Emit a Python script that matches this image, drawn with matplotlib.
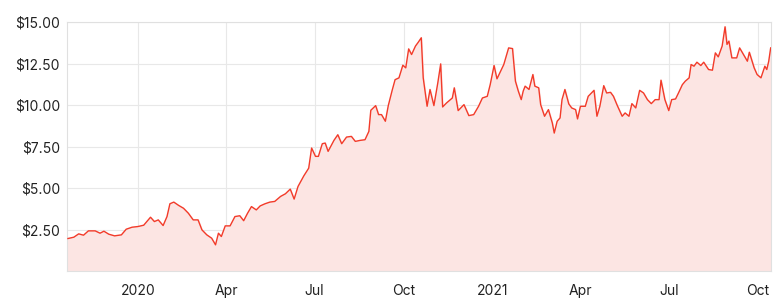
import numpy as np
import pandas as pd
import matplotlib
matplotlib.use('Agg')
import matplotlib.pyplot as plt

# price series (days counted from start_date)
start_date = '2019-10-20'
end_date = '2021-10-14'
days = [1, 7, 12, 17, 22, 29, 34, 38, 43, 49, 56, 61, 67, 73, 79, 86, 90, 94, 99, 103,
        106, 110, 115, 120, 125, 130, 135, 139, 144, 149, 153, 156, 159, 163, 168, 173,
        178, 182, 186, 190, 195, 199, 204, 209, 214, 220, 225, 230, 234, 238, 244, 249,
        252, 256, 259, 263, 266, 269, 275, 279, 283, 288, 293, 297, 302, 307, 311, 313,
        318, 321, 324, 328, 331, 335, 338, 342, 346, 349, 352, 355, 359, 362, 365, 367,
        371, 374, 378, 382, 385, 387, 391, 397, 399, 403, 409, 414, 419, 424, 428, 433,
        436, 440, 443, 450, 455, 459, 462, 465, 468, 470, 472, 476, 480, 482, 486, 488,
        492, 496, 500, 502, 505, 508, 510, 513, 517, 520, 524, 526, 529, 534, 537, 543,
        546, 549, 553, 556, 560, 563, 567, 572, 575, 579, 582, 586, 590, 594, 598, 602,
        606, 610, 612, 616, 620, 623, 627, 630, 634, 637, 641, 643, 646, 649, 653, 656,
        661, 665, 668, 671, 675, 678, 680, 682, 685, 690, 693, 697, 701, 703, 708, 711,
        715, 719, 721, 723, 725]
price = [1.98, 2.06, 2.26, 2.18, 2.44, 2.44, 2.30, 2.42, 2.24, 2.14, 2.20, 2.54, 2.66, 2.70,
         2.78, 3.26, 3.00, 3.10, 2.76, 3.30, 4.07, 4.17, 3.97, 3.80, 3.50, 3.10, 3.10, 2.50,
         2.20, 2.00, 1.60, 2.30, 2.10, 2.74, 2.74, 3.30, 3.35, 3.05, 3.50, 3.90, 3.70, 3.94,
         4.07, 4.17, 4.21, 4.51, 4.67, 4.95, 4.35, 5.11, 5.75, 6.21, 7.42, 6.92, 6.92, 7.68,
         7.72, 7.22, 7.88, 8.22, 7.68, 8.08, 8.12, 7.82, 7.88, 7.92, 8.42, 9.69, 9.97, 9.43,
         9.43, 9.03, 9.97, 10.89, 11.53, 11.64, 12.40, 12.24, 13.38, 13.04, 13.55, 13.79,
         14.05, 11.64, 9.93, 10.94, 9.97, 11.33, 12.48, 9.89, 10.13, 10.43, 11.04, 9.67,
         10.03, 9.37, 9.43, 9.93, 10.43, 10.53, 11.23, 12.38, 11.58, 12.44, 13.44, 13.40,
         11.44, 10.84, 10.33, 10.84, 11.14, 10.94, 11.84, 11.14, 11.04, 10.03, 9.33, 9.73,
         8.93, 8.32, 9.03, 9.23, 10.33, 10.94, 10.07, 9.83, 9.73, 9.17, 9.93, 9.93, 10.53,
         10.89, 9.33, 9.93, 11.17, 10.73, 10.77, 10.53, 9.97, 9.33, 9.53, 9.33, 10.09, 9.83,
         10.89, 10.73, 10.33, 10.09, 10.33, 10.33, 11.50, 10.33, 9.67, 10.33, 10.37, 10.73,
         11.23, 11.44, 11.64, 12.44, 12.34, 12.58, 12.38, 12.58, 12.14, 12.10, 13.14, 12.90,
         13.55, 14.71, 13.65, 13.85, 12.84, 12.84, 13.44, 13.04, 12.64, 13.18, 12.24, 11.84,
         11.64, 12.34, 12.14, 12.64, 13.44]

y_ticks = [2.5, 5.0, 7.5, 10.0, 12.5, 15.0]
x_ticks = ['2020-01-01', '2020-04-01', '2020-07-01', '2020-10-01',
           '2021-01-01', '2021-04-01', '2021-07-01', '2021-10-01']
x_labels = ['2020', 'Apr', 'Jul', 'Oct', '2021', 'Apr', 'Jul', 'Oct']

dates = pd.Timestamp(start_date) + pd.to_timedelta(days, unit='D')

plt.rcParams['font.family'] = ['Inter', 'DejaVu Sans']

fig = plt.figure(figsize=(7.84, 3.05), dpi=100)
ax = fig.add_axes([0.0855, 0.11, 0.8975, 0.818])

ax.fill_between(dates, price, 0, color='#fce5e3', zorder=1)
ax.plot(dates, price, color='#f23b2a', lw=1.0, zorder=3)

ax.set_ylim(0, 15)
ax.set_xlim(pd.Timestamp(start_date), pd.Timestamp(end_date))
ax.set_yticks(y_ticks)
ax.set_yticklabels(['$%.2f' % v for v in y_ticks])
ax.set_xticks(pd.to_datetime(x_ticks))
ax.set_xticklabels(x_labels)

ax.grid(True, color='#e8e8e8', lw=0.8, zorder=0)
ax.set_axisbelow(True)
for s in ax.spines.values():
    s.set_color('#e0e0e0')
    s.set_linewidth(0.8)
ax.tick_params(length=0, labelsize=10, colors='#222222')
ax.tick_params(axis='x', pad=9)
ax.tick_params(axis='y', pad=5)

fig.savefig('out.png', dpi=100)
